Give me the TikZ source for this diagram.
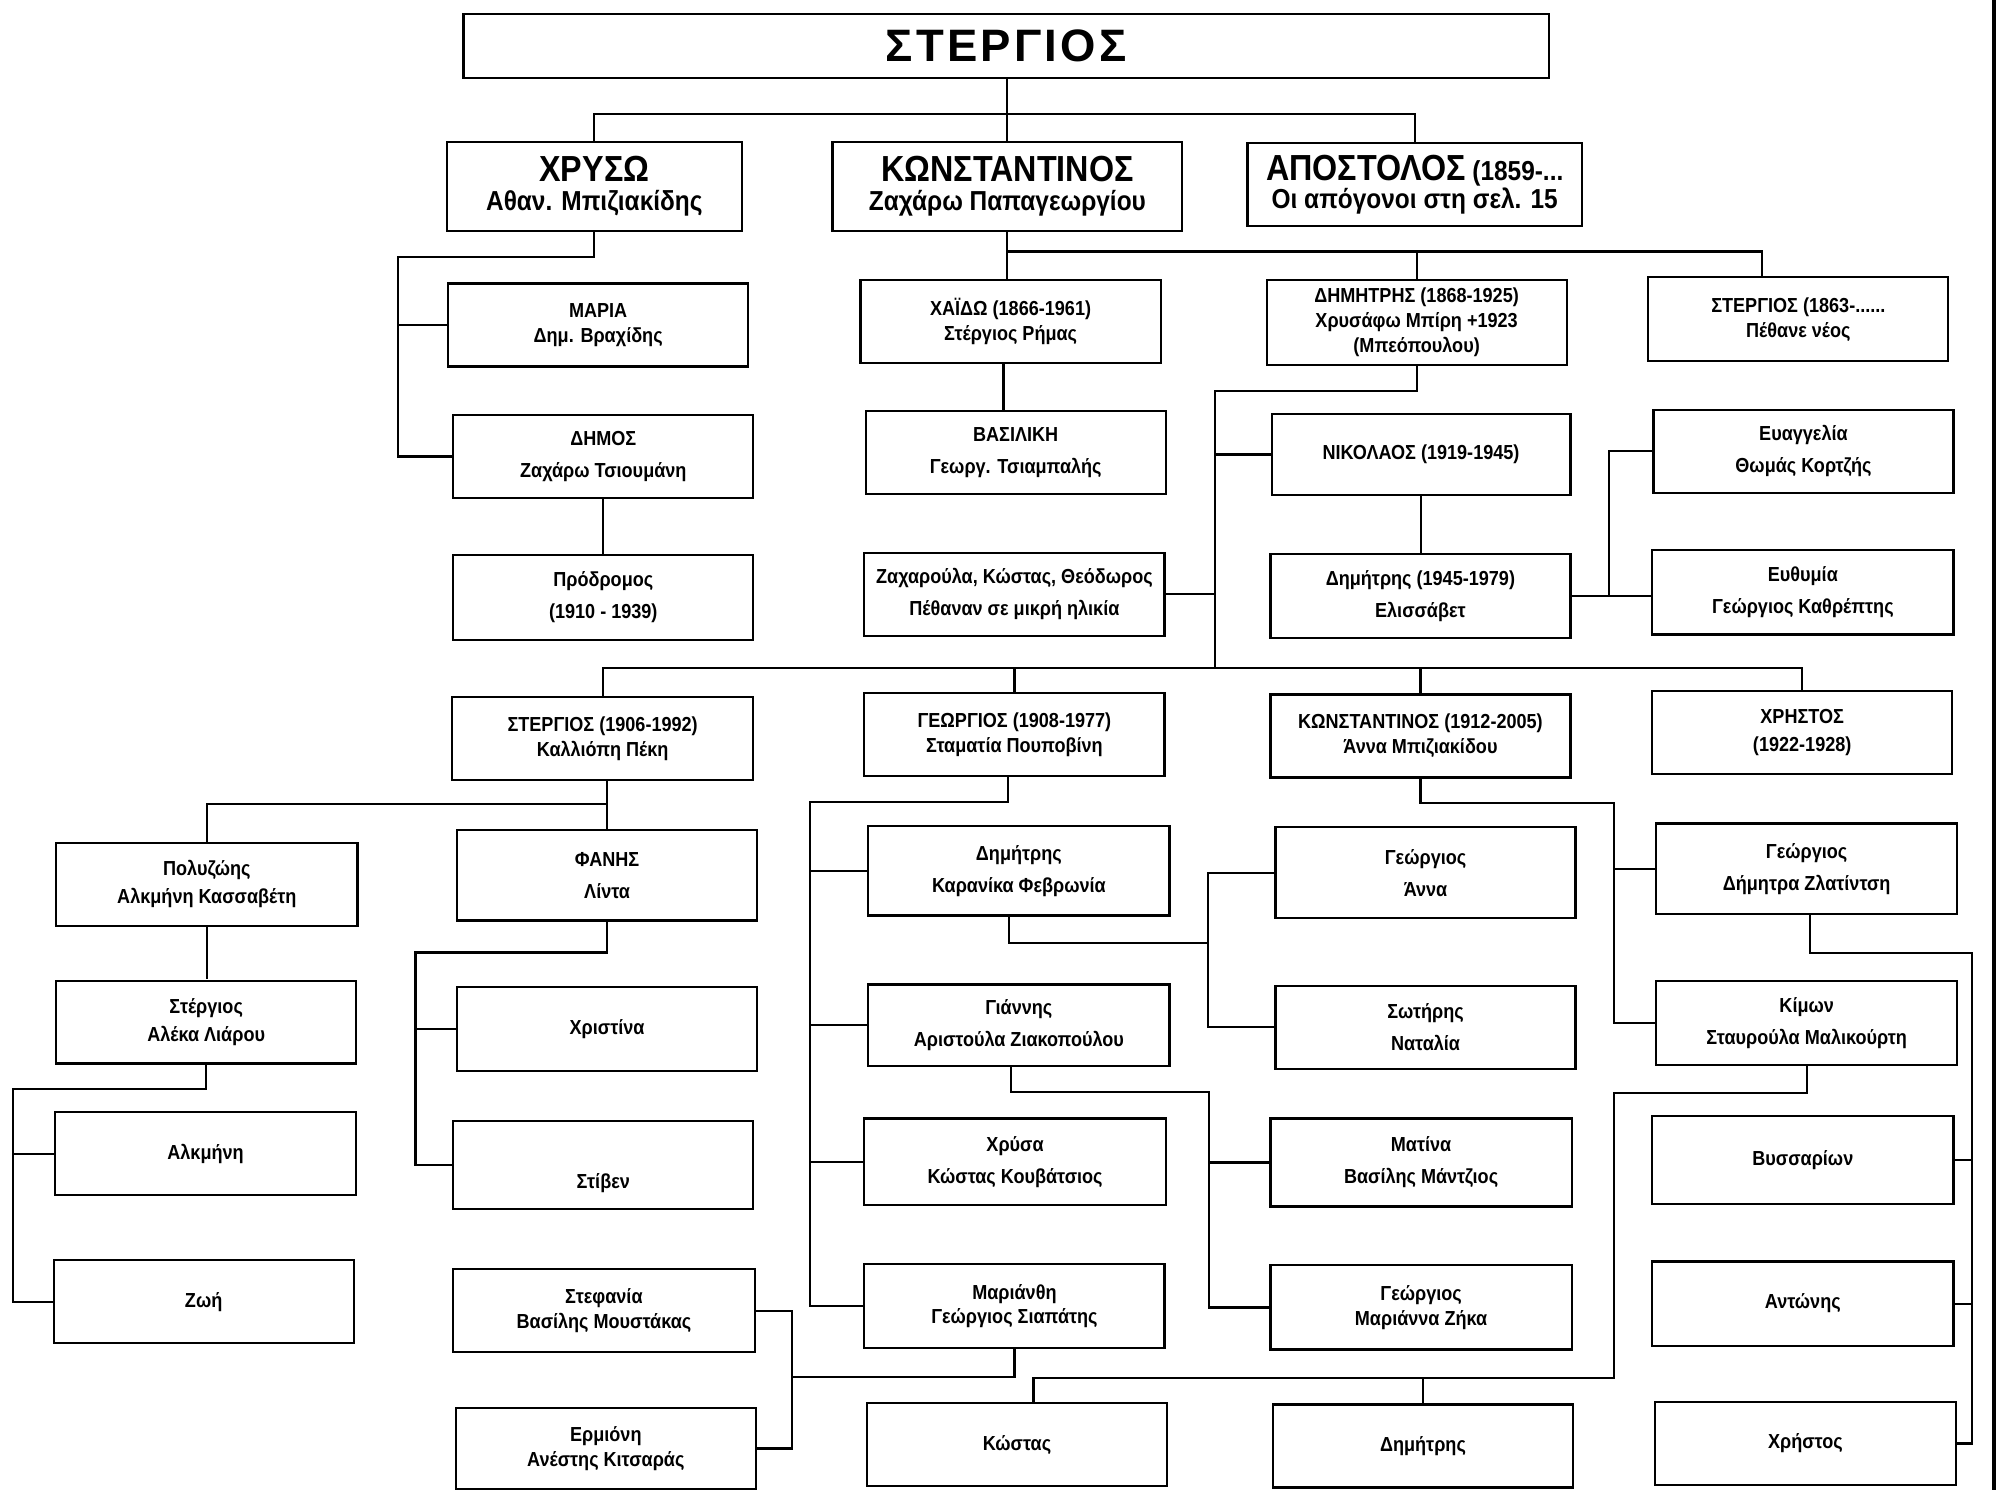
\documentclass[tikz,border=0pt]{standalone}
\usepackage{fontspec}
\setmainfont{Liberation Sans}[FakeStretch=0.89]
\newfontfamily\titlefont{Liberation Sans}[LetterSpace=7]
\newcommand\titlef{\titlefont\bfseries\fontsize{17.8}{20}\selectfont}
\newcommand\bign{\fontsize{14.2}{11.2}\selectfont}
\newcommand\famb[7][]{%
  \pgfmathsetmacro\fbcx{(#3+#5)/2}%
  \pgfmathsetmacro\fbcy{(#4+#6)/2}%
  \pgfmathsetmacro\fbw{(#5-#3)/2}%
  \pgfmathsetmacro\fbh{(#6-#4)/2}%
  \node[box,minimum width=\fbw pt,minimum height=\fbh pt,#1] (#2) at (\fbcx,\fbcy) {#7};}
\tikzset{
  box/.style={draw,line width=0.85pt,inner sep=0pt,align=center,fill=white,
    font=\fontsize{7.95}{9.75}\selectfont\bfseries},
  ltight/.style={font=\fontsize{7.95}{9.75}\selectfont\bfseries},
  lmid/.style={font=\fontsize{7.95}{11}\selectfont\bfseries},
  lloose/.style={font=\fontsize{7.95}{12.5}\selectfont\bfseries},
  gen1/.style={font=\fontsize{10.75}{11.2}\selectfont\bfseries},
  con/.style={draw,line width=0.85pt}
}
\begin{document}
\begin{tikzpicture}[x=0.5pt,y=-0.5pt]
\useasboundingbox (0,0) rectangle (1568,1167);
\fill[white] (0,0) rectangle (1568,1167);

% generation 0 and 1
\famb[font=\titlef]{top}{363}{11}{1213}{61}{ΣΤΕΡΓΙΟΣ}
\famb[gen1]{chr}{350}{111}{581}{181}{{\bign ΧΡΥΣΩ}\\Αθαν. Μπιζιακίδης}
\famb[gen1]{kon}{652}{111}{926}{181}{{\bign ΚΩΝΣΤΑΝΤΙΝΟΣ}\\Ζαχάρω Παπαγεωργίου}
\famb[gen1]{apo}{977}{112}{1239}{177}{{\bign ΑΠΟΣΤΟΛΟΣ} (1859-...\\Οι απόγονοι στη σελ. 15}

% generation 2
\famb[ltight]{mar}{351}{222}{586}{287}{ΜΑΡΙΑ\\Δημ. Βραχίδης}
\famb[ltight]{xai}{674}{219}{909}{284}{ΧΑΪΔΩ (1866-1961)\\Στέργιος Ρήμας}
\famb[ltight]{dim}{992}{219}{1227}{286}{ΔΗΜΗΤΡΗΣ (1868-1925)\\Χρυσάφω Μπίρη +1923\\(Μπεόπουλου)}
\famb[ltight]{ste1863}{1291}{217}{1526}{283}{ΣΤΕΡΓΙΟΣ (1863-......\\Πέθανε νέος}
\famb[lloose]{dimos}{355}{325}{590}{390}{ΔΗΜΟΣ\\Ζαχάρω Τσιουμάνη}
\famb[lloose]{vas}{678}{322}{913}{387}{ΒΑΣΙΛΙΚΗ\\Γεωργ. Τσιαμπαλής}
\famb{nik}{996}{324}{1230}{388}{ΝΙΚΟΛΑΟΣ (1919-1945)}
\famb[lloose]{eva}{1295}{321}{1530}{386}{Ευαγγελία\\Θωμάς Κορτζής}
\famb[lloose]{pro}{355}{435}{590}{501}{Πρόδρομος\\(1910 - 1939)}
\famb[lloose]{zax}{677}{433}{912}{498}{Ζαχαρούλα, Κώστας, Θεόδωρος\\Πέθαναν σε μικρή ηλικία}
\famb[lloose]{dim45}{995}{434}{1230}{500}{Δημήτρης (1945-1979)\\Ελισσάβετ}
\famb[lloose]{eyt}{1294}{431}{1530}{497}{Ευθυμία\\Γεώργιος Καθρέπτης}

% generation 3
\famb[ltight]{ste06}{354}{546}{590}{611}{ΣΤΕΡΓΙΟΣ (1906-1992)\\Καλλιόπη Πέκη}
\famb[ltight]{geo08}{677}{543}{912}{608}{ΓΕΩΡΓΙΟΣ (1908-1977)\\Σταματία Πουποβίνη}
\famb[ltight]{kon12}{995}{544}{1230}{609}{ΚΩΝΣΤΑΝΤΙΝΟΣ (1912-2005)\\Άννα Μπιζιακίδου}
\famb[lmid]{xri}{1294}{541}{1529}{606}{ΧΡΗΣΤΟΣ\\(1922-1928)}

% generation 4
\famb[lmid]{pol}{44}{660}{280}{725}{Πολυζώης\\Αλκμήνη Κασσαβέτη}
\famb[lloose]{fan}{358}{650}{593}{721}{ΦΑΝΗΣ\\Λίντα}
\famb[lloose]{dimk}{680}{647}{916}{717}{Δημήτρης\\Καρανίκα Φεβρωνία}
\famb[lloose]{geoa}{999}{648}{1234}{719}{Γεώργιος\\Άννα}
\famb[lloose]{geod}{1297}{645}{1533}{716}{Γεώργιος\\Δήμητρα Ζλατίντση}
\famb[lmid]{ster}{44}{768}{279}{833}{Στέργιος\\Αλέκα Λιάρου}
\famb{xris}{358}{773}{593}{839}{Χριστίνα}
\famb[lloose]{gia}{680}{771}{916}{835}{Γιάννης\\Αριστούλα Ζιακοπούλου}
\famb[lloose]{sot}{999}{772}{1234}{837}{Σωτήρης\\Ναταλία}
\famb[lloose]{kim}{1297}{768}{1533}{834}{Κίμων\\Σταυρούλα Μαλικούρτη}
\famb{alk}{43}{871}{279}{936}{Αλκμήνη}
\famb{stiv}{355}{878}{590}{947}{\raisebox{-9pt}[0pt][0pt]{Στίβεν}}
\famb[lloose]{xrys}{677}{876}{913}{944}{Χρύσα\\Κώστας Κουβάτσιος}
\famb[lloose]{mat}{995}{876}{1231}{945}{Ματίνα\\Βασίλης Μάντζιος}
\famb{vys}{1294}{874}{1530}{943}{Βυσσαρίων}
\famb{zoi}{42}{987}{277}{1052}{Ζωή}
\famb[ltight]{stef}{355}{994}{591}{1059}{Στεφανία\\Βασίλης Μουστάκας}
\famb[ltight]{mari}{677}{990}{912}{1056}{Μαριάνθη\\Γεώργιος Σιαπάτης}
\famb[ltight]{geom}{995}{991}{1231}{1057}{Γεώργιος\\Μαριάννα Ζήκα}
\famb{ant}{1294}{988}{1530}{1054}{Αντώνης}
\famb[ltight]{erm}{357}{1103}{592}{1166}{Ερμιόνη\\Ανέστης Κιτσαράς}
\famb{kos}{679}{1099}{914}{1164}{Κώστας}
\famb{dimb}{997}{1100}{1232}{1165}{Δημήτρης}
\famb{xrist}{1296}{1098}{1532}{1163}{Χρήστος}

% connectors
\coordinate (b0) at (1108,89);
\draw[con] (chr.north) |- (b0) -- (apo.north);
\draw[con] (kon.north) -- (kon.north |- top.south);

\coordinate (c2) at (312,201);
\draw[con] (chr.south) |- (c2) |- (dimos.west);
\draw[con] (c2 |- mar.west) -- (mar.west);
\draw[con] (dimos.south) -- (dimos.south |- pro.north);

\coordinate (c4) at (1380,197);
\draw[con] (kon.south) -- (kon.south |- xai.north);
\draw[con] (kon.south |- c4) -- (c4) -- (c4 |- ste1863.north);
\draw[con] (dim.north) -- (dim.north |- c4);

\coordinate (v5) at (786,300);
\draw[con] (v5 |- xai.south) -- (v5 |- vas.north);

\coordinate (c6) at (951.6,306);
\coordinate (b7) at (951.6,523);
\draw[con] (dim.south) |- (c6) -- (b7);
\draw[con] (c6 |- nik.west) -- (nik.west);
\draw[con] (zax.east) -- (zax.east -| c6);
\draw[con] (ste06.north) |- (b7) -| (xri.north);
\draw[con] (geo08.north) -- (geo08.north |- b7);
\draw[con] (kon12.north) -- (kon12.north |- b7);

\draw[con] (nik.south) -- (nik.south |- dim45.north);

\coordinate (c8) at (1260,400);
\draw[con] (dim45.east) -- (dim45.east -| eyt.west);
\draw[con] (c8 |- dim45.east) |- (eva.west);

\coordinate (c9) at (475.5,629.7);
\draw[con] (fan.north) -- (fan.north |- ste06.south);
\draw[con] (pol.north) |- (c9);
\draw[con] (pol.south) -- (pol.south |- ster.north);

\coordinate (c11) at (10,852.7);
\draw[con] (ster.south) |- (c11) |- (zoi.west);
\draw[con] (c11 |- alk.west) -- (alk.west);

\coordinate (c12) at (325.4,746);
\draw[con] (fan.south) |- (c12) |- (stiv.west);
\draw[con] (c12 |- xris.west) -- (xris.west);

\coordinate (v13) at (789.6,620);
\coordinate (c13) at (634.4,628);
\draw[con] (v13 |- geo08.south) |- (c13) |- (mari.west);
\draw[con] (c13 |- dimk.west) -- (dimk.west);
\draw[con] (c13 |- gia.west) -- (gia.west);
\draw[con] (c13 |- xrys.west) -- (xrys.west);

\coordinate (v14) at (790,730);
\coordinate (c14) at (946,738.3);
\draw[con] (v14 |- dimk.south) |- (c14);
\draw[con] (geoa.west) -| (c14) |- (sot.west);

\coordinate (v15) at (792,850);
\coordinate (c15) at (947,855);
\draw[con] (v15 |- gia.south) |- (c15) |- (geom.west);
\draw[con] (c15 |- mat.west) -- (mat.west);

\coordinate (c16) at (1264,628.7);
\draw[con] (kon12.south) |- (c16) |- (kim.west);
\draw[con] (c16 |- geod.west) -- (geod.west);

\coordinate (v17) at (1417.6,740);
\coordinate (c17) at (1544.6,746.5);
\draw[con] (v17 |- geod.south) |- (c17) |- (xrist.east);
\draw[con] (c17 |- vys.east) -- (vys.east);
\draw[con] (c17 |- ant.east) -- (ant.east);

\coordinate (c18a) at (1264,856);
\coordinate (c18b) at (1264,1079.4);
\coordinate (v18) at (809.4,1090);
\draw[con] (kim.south) |- (c18a) -- (c18b) -- (v18 |- c18b) -- (v18 |- kos.north);
\draw[con] (dimb.north) -- (dimb.north |- c18b);

\coordinate (c19) at (620,1078.5);
\draw[con] (mari.south) |- (c19);
\draw[con] (stef.east) -| (c19) |- (erm.east);

% right edge rule
\draw[line width=1.3pt] (1561.7,0) -- (1561.7,1167);
\end{tikzpicture}
\end{document}
